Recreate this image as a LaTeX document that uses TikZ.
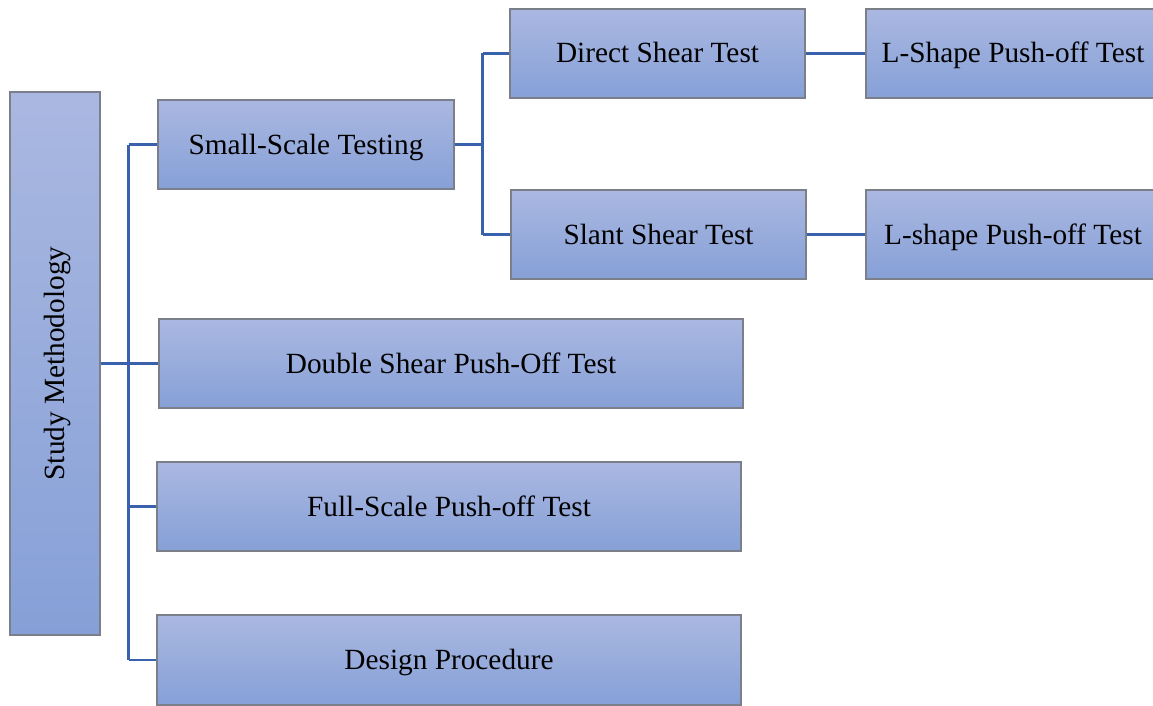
\documentclass[tikz,border=0pt]{standalone}
\usepackage{fontspec}
\setmainfont{Liberation Serif}
\definecolor{boxtop}{HTML}{AAB8E1}
\definecolor{boxbot}{HTML}{86A0D7}
\definecolor{boxline}{HTML}{7A7F8A}
\definecolor{connblue}{HTML}{3A62AC}
\begin{document}
\begin{tikzpicture}[x=1pt,y=-1pt,
  lbl/.style={font=\fontsize{29.3}{34}\selectfont, text=black, text height=26pt, text depth=7pt},
  box/.style={lbl, draw=boxline, line width=1.4pt, top color=boxtop, bottom color=boxbot,
    rectangle, inner sep=0pt},
  conn/.style={draw=connblue, line width=2.4pt}]
\useasboundingbox (0,0) rectangle (1153,706);
\clip (0,0) rectangle (1153,706);
\fill[white] (0,0) rectangle (1153,706);
\node[box, minimum width=90pt, minimum height=543pt] (study) at (55,363.5) {};
\node[lbl, rotate=90, inner sep=0pt] (studyt) at (study.center) {Study Methodology};
\node[box, minimum width=296pt, minimum height=89pt] (small) at (306,144.5) {Small-Scale Testing};
\node[box, minimum width=295pt, minimum height=89pt] (direct) at (657.5,53.5) {Direct Shear Test};
\node[box, minimum width=295pt, minimum height=89pt] (slant) at (658.5,234.5) {Slant Shear Test};
\node[box, minimum width=294pt, minimum height=89pt] (lone) at (1013,53.5) {L-Shape Push-off Test};
\node[box, minimum width=294pt, minimum height=89pt] (ltwo) at (1013,234.5) {L-shape Push-off Test};
\node[box, minimum width=584pt, minimum height=89pt] (double) at (451,363.5) {Double Shear Push-Off Test};
\node[box, minimum width=584pt, minimum height=89pt] (full) at (449,506.5) {Full-Scale Push-off Test};
\node[box, minimum width=584pt, minimum height=90pt] (design) at (449,660) {Design Procedure};
\coordinate (ta) at (128.5,144.5);
\coordinate (tb) at (128.5,660);
\coordinate (sa) at (482.5,53.5);
\coordinate (sb) at (482.5,234.5);
\draw[conn] (ta) -- (tb);
\draw[conn] (study.east) -- (study.east -| ta);
\draw[conn] (ta) -- (small.west);
\draw[conn] (double.west -| ta) -- (double.west);
\draw[conn] (full.west -| ta) -- (full.west);
\draw[conn] (tb) -- (design.west);
\draw[conn] (sa) -- (sb);
\draw[conn] (small.east) -- (small.east -| sa);
\draw[conn] (sa) -- (direct.west);
\draw[conn] (sb) -- (slant.west);
\draw[conn] (direct.east) -- (lone.west);
\draw[conn] (slant.east) -- (ltwo.west);
\end{tikzpicture}
\end{document}
